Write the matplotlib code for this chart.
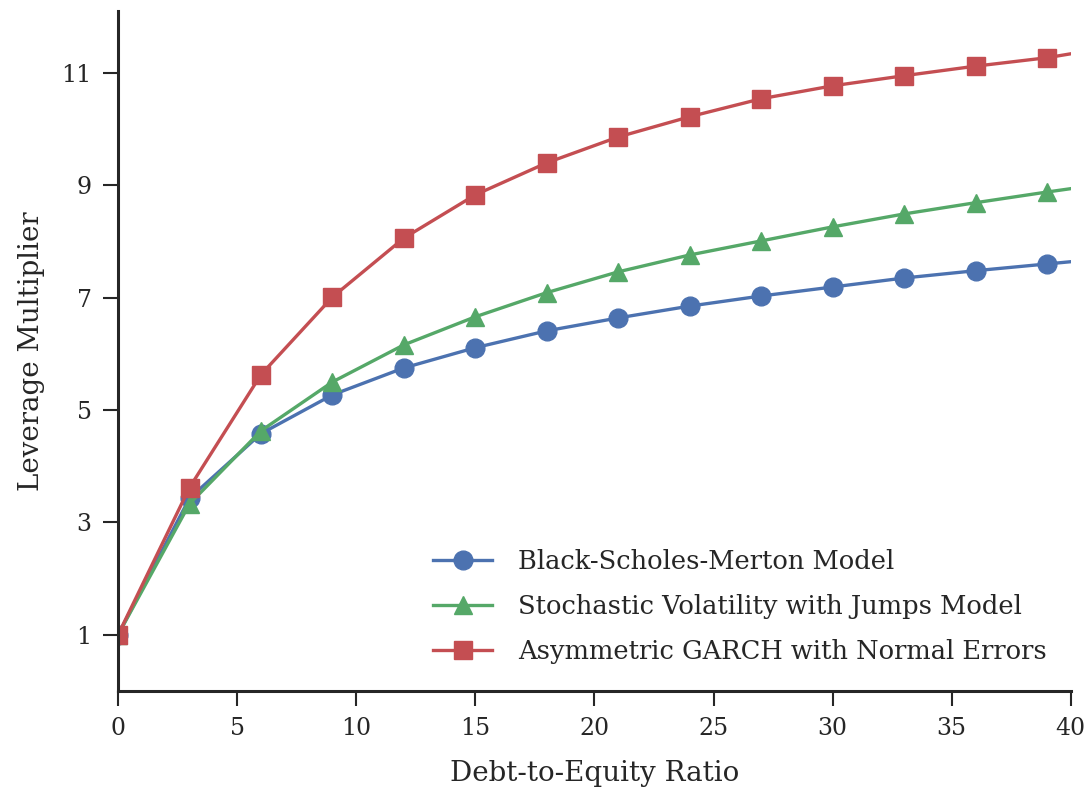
import matplotlib
matplotlib.use("Agg")
import matplotlib.pyplot as plt

# Data
x_vals = [0, 3, 6, 9, 12, 15, 18, 21, 24, 27, 30, 33, 36, 39, 40]
bsm = [1.00, 3.43, 4.58, 5.27, 5.75, 6.11, 6.41, 6.64, 6.85, 7.03, 7.19, 7.35, 7.48, 7.60, 7.64]
svj = [1.00, 3.33, 4.63, 5.50, 6.16, 6.66, 7.09, 7.46, 7.76, 8.01, 8.26, 8.49, 8.69, 8.88, 8.94]
garch = [1.00, 3.62, 5.63, 7.01, 8.06, 8.83, 9.40, 9.86, 10.22, 10.54, 10.77, 10.95, 11.12, 11.27, 11.34]

labels = ["Black-Scholes-Merton Model",
          "Stochastic Volatility with Jumps Model",
          "Asymmetric GARCH with Normal Errors"]
x_ticks = [0, 5, 10, 15, 20, 25, 30, 35, 40]
y_ticks = [1, 3, 5, 7, 9, 11]

plt.rcParams['font.family'] = ['DejaVu Serif']
fig = plt.figure(figsize=(10.86, 7.92), dpi=100)
ax = fig.add_axes([0.1087, 0.1275, 0.8773, 0.8585])

colors = ["#4C72B0", "#55A868", "#C44E52"]
markers = ["o", "^", "s"]
sizes = [13.5, 13.5, 13]
mk = list(range(len(x_vals) - 1))
for ys, c, m, s, lab in zip([bsm, svj, garch], colors, markers, sizes, labels):
    ax.plot(x_vals, ys, color=c, marker=m, markersize=s,
            linewidth=2.4, label=lab, markevery=mk, clip_on=True)

ax.set_xlim(0, 40)
ax.set_ylim(0, 12.1)
ax.set_xticks(x_ticks)
ax.set_yticks(y_ticks)
for s in ["top", "right"]:
    ax.spines[s].set_visible(False)
for s in ["left", "bottom"]:
    ax.spines[s].set_linewidth(2.2)
    ax.spines[s].set_color("#262626")
ax.tick_params(direction="out", length=11, width=1.5, color="#262626",
               labelsize=17, labelcolor="#262626", pad=8)
ax.set_xlabel("Debt-to-Equity Ratio", fontsize=20, color="#262626", labelpad=14)
ax.set_ylabel("Leverage Multiplier", fontsize=20, color="#262626", labelpad=12)

leg = ax.legend(loc="upper left", frameon=False, fontsize=18.5,
                bbox_to_anchor=(433 / 1086, 1 - 549 / 792),
                bbox_transform=fig.transFigure, borderpad=0, borderaxespad=0,
                handlelength=2.3, handletextpad=1.0, labelspacing=0.78)
for t in leg.get_texts():
    t.set_color("#262626")

fig.savefig("out.png", dpi=100)
